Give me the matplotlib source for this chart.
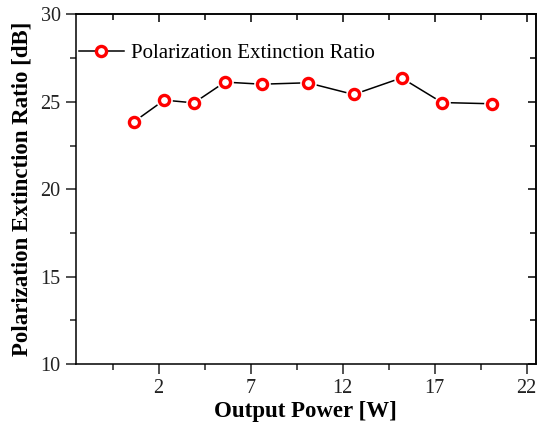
import numpy as np
import matplotlib
matplotlib.use('Agg')
import matplotlib.pyplot as plt
from matplotlib.lines import Line2D

# Data
power = [0.66, 2.3, 3.92, 5.6, 7.6, 10.1, 12.6, 15.2, 17.4, 20.1]
per_db = [23.86, 25.1, 24.94, 26.13, 26.01, 26.09, 25.42, 26.37, 24.96, 24.89]
xticks = [2, 7, 12, 17, 22]
yticks = [10, 15, 20, 25, 30]

plt.rcParams['font.family'] = ['Liberation Serif', 'DejaVu Serif']
plt.rcParams['axes.linewidth'] = 1.1

fig = plt.figure(figsize=(5.38, 4.25), dpi=100)
ax = fig.add_axes([0.141, 0.1435, 0.855, 0.8225])

ax.plot(power, per_db, '-', color='black', lw=1.1, zorder=2)
ax.plot(power, per_db, 'o', ms=12, mfc='white', mec='white', mew=0, zorder=3)
ax.plot(power, per_db, 'o', ms=7.3, mfc='white', mec='red', mew=2.4, zorder=4)

ax.set_xlim(-2.5, 22.5)
ax.set_ylim(10, 30)
ax.set_xticks(xticks)
ax.set_yticks(yticks)
ax.set_xticks(np.arange(-0.5, 22.5, 5), minor=True)
ax.set_yticks(np.arange(12.5, 30, 5), minor=True)
ax.tick_params(which='major', direction='out', length=7, width=1.1, labelsize=14.5,
               colors='#222222', pad=4)
ax.tick_params(which='minor', direction='out', length=4, width=1.1, colors='#222222')

# mirrored ticks on top and right, pointing inwards
top = ax.secondary_xaxis('top')
top.set_xticks(xticks)
top.set_xticks(np.arange(-0.5, 22.5, 5), minor=True)
top.tick_params(which='major', direction='in', length=6, width=1.1, labeltop=False)
top.tick_params(which='minor', direction='in', length=4, width=1.1)
right = ax.secondary_yaxis('right')
right.set_yticks(yticks)
right.set_yticks(np.arange(12.5, 30, 5), minor=True)
right.tick_params(which='major', direction='in', length=6, width=1.1, labelright=False)
right.tick_params(which='minor', direction='in', length=4, width=1.1)

ax.set_xlabel('Output Power [W]', fontsize=16.5, fontweight='bold', labelpad=2)
ax.set_ylabel('Polarization Extinction Ratio [dB]', fontsize=16.5, fontweight='bold',
              labelpad=6)

handle = Line2D([], [], color='black', lw=1.1, marker='o', ms=7.3, mfc='white',
                mec='red', mew=2.4)
ax.legend([handle], ['Polarization Extinction Ratio'], loc='upper left',
          frameon=False, fontsize=15, handlelength=2.2, handletextpad=0.3,
          bbox_to_anchor=(-0.035, 0.97))

fig.savefig('out.png', dpi=100)
